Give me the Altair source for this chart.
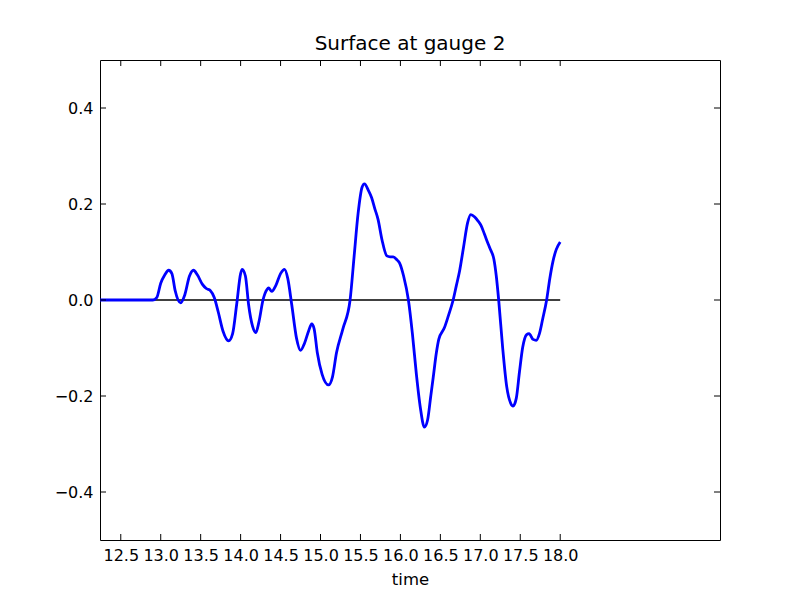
import altair as alt
import pandas as pd

# digitised surface elevation at gauge 2
time = [12.24, 12.90, 12.95, 13.00, 13.05, 13.10, 13.14, 13.18, 13.25, 13.30, 13.36, 13.41,
        13.46, 13.52, 13.57, 13.62, 13.67, 13.72, 13.78, 13.85, 13.90, 13.95, 14.00, 14.02,
        14.06, 14.10, 14.15, 14.19, 14.23, 14.28, 14.33, 14.35, 14.39, 14.44, 14.50, 14.55,
        14.59, 14.64, 14.70, 14.75, 14.80, 14.85, 14.89, 14.92, 14.96, 15.02, 15.10, 15.15,
        15.20, 15.28, 15.37, 15.42, 15.47, 15.52, 15.55, 15.60, 15.64, 15.68, 15.72, 15.77,
        15.83, 15.87, 15.91, 15.96, 15.99, 16.04, 16.10, 16.15, 16.20, 16.25, 16.30, 16.34,
        16.38, 16.41, 16.45, 16.48, 16.55, 16.60, 16.66, 16.70, 16.74, 16.79, 16.84, 16.88,
        16.93, 16.97, 17.01, 17.05, 17.10, 17.13, 17.17, 17.20, 17.23, 17.28, 17.33, 17.38,
        17.41, 17.45, 17.49, 17.53, 17.58, 17.61, 17.66, 17.70, 17.74, 17.78, 17.83, 17.87,
        17.91, 17.95, 18.00]
surface = [0.0, 0.0, 0.005, 0.035, 0.052, 0.062, 0.055, 0.02, -0.006, 0.01, 0.05, 0.062,
           0.052, 0.033, 0.024, 0.02, 0.005, -0.025, -0.065, -0.085, -0.07, -0.01, 0.055, 0.064,
           0.05, -0.01, -0.055, -0.068, -0.045, 0.0, 0.022, 0.025, 0.018, 0.03, 0.055, 0.064,
           0.045, -0.01, -0.08, -0.105, -0.09, -0.065, -0.05, -0.06, -0.11, -0.155, -0.177, -0.16,
           -0.11, -0.06, 0.0, 0.09, 0.18, 0.235, 0.242, 0.228, 0.213, 0.19, 0.168, 0.125,
           0.092, 0.09, 0.09, 0.083, 0.077, 0.05, 0.0, -0.07, -0.155, -0.225, -0.265, -0.25,
           -0.2, -0.162, -0.11, -0.082, -0.058, -0.033, 0.0, 0.03, 0.06, 0.11, 0.16, 0.178,
           0.173, 0.165, 0.155, 0.138, 0.116, 0.104, 0.085, 0.05, 0.0, -0.1, -0.18, -0.215,
           -0.221, -0.205, -0.15, -0.099, -0.072, -0.07, -0.082, -0.084, -0.07, -0.04, 0.0, 0.045,
           0.081, 0.105, 0.121]

zero_t = [12.24, 18.0]
zero_y = [0.0, 0.0]

x_ticks = [12.5, 13.0, 13.5, 14.0, 14.5, 15.0, 15.5, 16.0, 16.5, 17.0, 17.5, 18.0]
y_ticks = [-0.4, -0.2, 0.0, 0.2, 0.4]

X_DOMAIN = [12.24, 20.0]
Y_DOMAIN = [-0.5, 0.5]
W, H = 620, 480
FONT = "DejaVu Sans"

df = pd.DataFrame({"time": time, "surface": surface})
zdf = pd.DataFrame({"time": zero_t, "surface": zero_y})
xt = pd.DataFrame({"v": x_ticks})
yt = pd.DataFrame({"v": y_ticks})

xscale = alt.Scale(domain=X_DOMAIN, nice=False, zero=False)
yscale = alt.Scale(domain=Y_DOMAIN, nice=False, zero=False)

xaxis = alt.Axis(values=x_ticks, format=".1f", tickSize=0, labelPadding=7, domain=False,
                 grid=False, title="time", titleFontWeight="normal", titleFontSize=16.5,
                 titlePadding=8, labelFontSize=16, labelColor="black", titleColor="black",
                 labelFont=FONT, titleFont=FONT, labelFlush=False)
yaxis = alt.Axis(values=y_ticks, format=".1f", tickSize=0, labelPadding=7, domain=False,
                 grid=False, title=None, labelFontSize=16, labelColor="black",
                 labelFont=FONT, labelFlush=False)

zero_line = alt.Chart(zdf).mark_line(color="black", strokeWidth=1.4).encode(
    x=alt.X("time:Q", scale=xscale, axis=xaxis),
    y=alt.Y("surface:Q", scale=yscale, axis=yaxis),
)

curve = alt.Chart(df).mark_line(color="#0000ff", strokeWidth=2.8, interpolate="monotone").encode(
    x=alt.X("time:Q", scale=xscale),
    y=alt.Y("surface:Q", scale=yscale),
)

tick_len = 6
bottom_ticks = alt.Chart(xt).mark_rule(color="black", strokeWidth=1).encode(
    x=alt.X("v:Q", scale=xscale), y=alt.value(H), y2=alt.value(H - tick_len))
top_ticks = alt.Chart(xt).mark_rule(color="black", strokeWidth=1).encode(
    x=alt.X("v:Q", scale=xscale), y=alt.value(0), y2=alt.value(tick_len))
left_ticks = alt.Chart(yt).mark_rule(color="black", strokeWidth=1).encode(
    y=alt.Y("v:Q", scale=yscale), x=alt.value(0), x2=alt.value(tick_len))
right_ticks = alt.Chart(yt).mark_rule(color="black", strokeWidth=1).encode(
    y=alt.Y("v:Q", scale=yscale), x=alt.value(W), x2=alt.value(W - tick_len))

chart = alt.layer(zero_line, curve, bottom_ticks, top_ticks, left_ticks, right_ticks).properties(
    width=W, height=H,
    title=alt.TitleParams("Surface at gauge 2", fontSize=20, font=FONT, fontWeight="normal",
                          color="black", offset=6),
    autosize=alt.AutoSizeParams(type="none"),
    padding={"left": 92, "top": 52, "right": 72, "bottom": 52},
    background="white",
).configure_view(stroke="black", strokeWidth=1)

chart.save("out.html", embed_options={"renderer": "svg", "actions": False})
